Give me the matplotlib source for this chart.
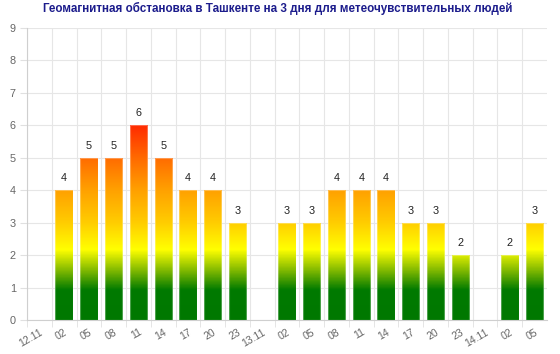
import numpy as np
import matplotlib
matplotlib.use('Agg')
import matplotlib.pyplot as plt
from matplotlib.colors import LinearSegmentedColormap

plt.rcParams['font.family'] = ['Liberation Sans', 'DejaVu Sans']

# geomagnetic index every 3 hours, date labels have no bar
labels = ['12.11', '02', '05', '08', '11', '14', '17', '20', '23',
          '13.11', '02', '05', '08', '11', '14', '17', '20', '23',
          '14.11', '02', '05']
values = [np.nan, 4, 5, 5, 6, 5, 4, 4, 3,
          np.nan, 3, 3, 4, 4, 4, 3, 3, 2,
          np.nan, 2, 3]
y_max = 9

fig = plt.figure(figsize=(5.6, 3.54), dpi=100)
ax = fig.add_axes([27 / 560, 34 / 354, 520 / 560, 292 / 354])

# colour depends on absolute level: green low, yellow ~2, orange ~4, red ~6
cmap = LinearSegmentedColormap.from_list('geo', [
    (0.0, '#007800'), (0.9 / 9, '#007a00'), (1.5 / 9, '#7fb800'),
    (2.15 / 9, '#ffff00'), (3.0 / 9, '#ffcc00'), (4.0 / 9, '#ffa000'),
    (5.0 / 9, '#ff6a00'), (6.0 / 9, '#ff2a00'), (1.0, '#ff0000')])
grad = np.linspace(0, y_max, 600).reshape(-1, 1)

x = np.arange(len(labels))
bars = ax.bar(x, np.nan_to_num(values), width=0.7, facecolor='none',
              edgecolor=(1, 1, 1, 0.3), linewidth=0.8, zorder=3)
for b, v in zip(bars, values):
    if np.isnan(v):
        continue
    im = ax.imshow(grad, extent=[b.get_x(), b.get_x() + b.get_width(), 0, y_max],
                   origin='lower', aspect='auto', cmap=cmap, vmin=0, vmax=y_max,
                   zorder=2)
    im.set_clip_path(b)
    ax.text(b.get_x() + b.get_width() / 2, v + 0.22, f'{int(v)}',
            ha='center', va='bottom', fontsize=7.8, color='#222222')

ax.set_xlim(-0.5, len(labels) - 0.5)
ax.set_ylim(0, y_max)

ax.set_xticks(x)
ax.set_xticklabels(labels, rotation=30, ha='right', va='top',
                   rotation_mode='anchor', fontsize=7.5, color='#666666')
ax.set_xticks(np.arange(len(labels)) - 0.5, minor=True)
ax.tick_params(axis='x', which='major', length=0, pad=5)
ax.tick_params(axis='x', which='minor', length=5, color='#e0e0e0')
ax.set_yticks(range(0, y_max + 1))
ax.tick_params(axis='y', length=5, color='#e0e0e0', labelsize=7.8,
               labelcolor='#666666', pad=3)

ax.grid(True, which='minor', axis='x', color='#e6e6e6', linewidth=0.8, zorder=0)
ax.grid(True, which='major', axis='y', color='#e6e6e6', linewidth=0.8, zorder=0)
ax.set_axisbelow(True)

for s in ['top', 'right']:
    ax.spines[s].set_visible(False)
for s in ['left', 'bottom']:
    ax.spines[s].set_color('#cfcfcf')
    ax.spines[s].set_linewidth(0.8)

fig.suptitle('Геомагнитная обстановка в Ташкенте на 3 дня для метеочувствительных людей',
             x=0.495, y=0.995, fontsize=8.4, fontweight='bold', color='#1c1c8c')

fig.savefig('out.png', dpi=100)
